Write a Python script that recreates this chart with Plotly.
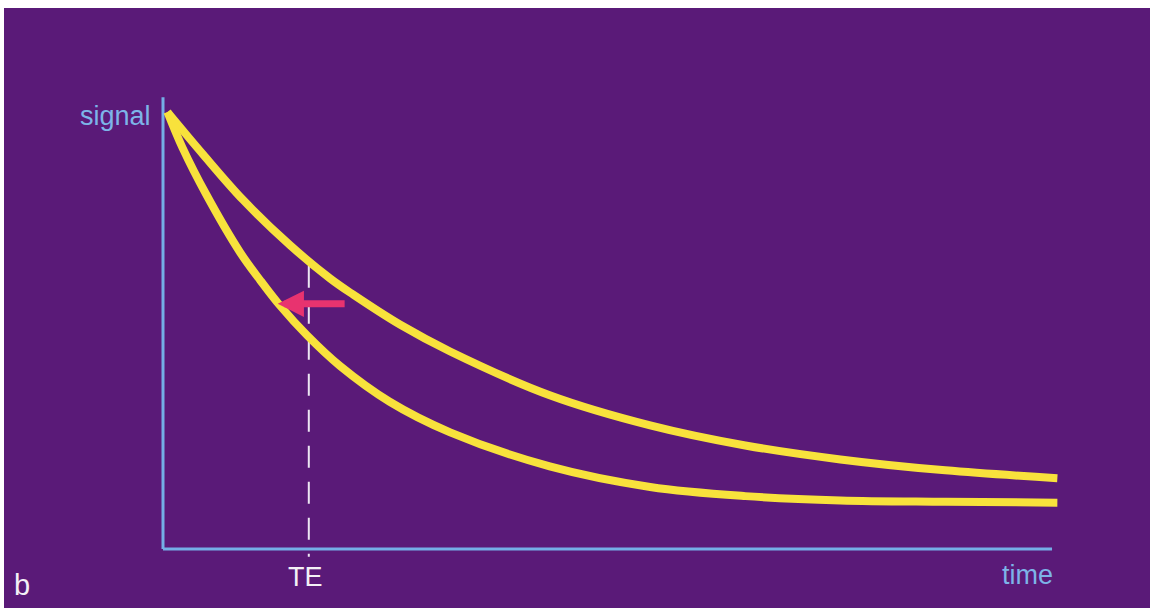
import plotly.graph_objects as go

# Data (arbitrary units): time axis 0..100, signal 0..1
time_slow = [0.5, 4.5, 9.0, 14.3, 18.8, 21.4, 26.7, 32.3, 43.5, 54.8, 65.5, 76.2, 88.0, 100.6]
signal_slow = [1.0, 0.903, 0.799, 0.695, 0.619, 0.582, 0.513, 0.452, 0.352, 0.283,
               0.237, 0.205, 0.180, 0.162]

time_fast = [0.5, 2.2, 4.9, 8.7, 10.9, 13.2, 16.2, 19.9, 25.5, 32.3, 43.5, 54.8, 65.5,
             76.2, 88.0, 100.6]
signal_fast = [1.0, 0.918, 0.810, 0.678, 0.616, 0.556, 0.489, 0.419, 0.337, 0.267, 0.189,
               0.142, 0.121, 0.111, 0.108, 0.106]

TE = 16.4
arrow_from = 20.6
arrow_to = 12.9
arrow_level = 0.561

x_axis_end = 100
y_axis_top = 1.034

PURPLE = "#5a1a78"
YELLOW = "#f8e23c"
AXIS = "#74aee6"
FONT = "Liberation Sans, Arial, sans-serif"

fig = go.Figure()

fig.add_trace(go.Scatter(x=time_slow, y=signal_slow, mode="lines",
                         line=dict(color=YELLOW, width=8, shape="spline", smoothing=1.0),
                         hoverinfo="skip", showlegend=False))
fig.add_trace(go.Scatter(x=time_fast, y=signal_fast, mode="lines",
                         line=dict(color=YELLOW, width=8, shape="spline", smoothing=1.0),
                         hoverinfo="skip", showlegend=False))

# axes
fig.add_shape(type="line", x0=0, x1=0, y0=0, y1=y_axis_top, xref="x", yref="y",
              line=dict(color=AXIS, width=3), layer="below")
fig.add_shape(type="line", x0=0, x1=x_axis_end, y0=0, y1=0, xref="x", yref="y",
              line=dict(color=AXIS, width=3), layer="below")

# TE dashed line (drawn top -> bottom so the dash pattern starts at the curve)
fig.add_shape(type="line", x0=TE, x1=TE, y0=0.648, y1=-0.018, xref="x", yref="y",
              line=dict(color="#ece6f2", width=2, dash="22px,14px"), layer="below")

# arrow
fig.add_annotation(x=arrow_to, y=arrow_level, ax=arrow_from, ay=arrow_level,
                   xref="x", yref="y", axref="x", ayref="y", text="",
                   showarrow=True, arrowhead=2, arrowsize=0.75, arrowwidth=7,
                   arrowcolor="#e8336f", standoff=0, startstandoff=0)

# texts
fig.add_annotation(x=-1.1, y=0.991, xref="x", yref="y", text="signal", showarrow=False,
                   xanchor="right", yanchor="middle",
                   font=dict(family=FONT, size=27, color="#7db4e8"))
fig.add_annotation(x=97.2, y=-0.059, xref="x", yref="y", text="time", showarrow=False,
                   xanchor="center", yanchor="middle",
                   font=dict(family=FONT, size=27, color="#7db4e8"))
fig.add_annotation(x=16.0, y=-0.064, xref="x", yref="y", text="TE", showarrow=False,
                   xanchor="center", yanchor="middle",
                   font=dict(family=FONT, size=27, color="#f4f0f6"))
fig.add_annotation(x=-15.9, y=-0.082, xref="x", yref="y", text="b", showarrow=False,
                   xanchor="center", yanchor="middle",
                   font=dict(family=FONT, size=29, color="#f4f0f6"))

fig.update_layout(
    width=1152, height=612,
    margin=dict(l=4, r=2, t=8, b=4),
    paper_bgcolor="white",
    plot_bgcolor=PURPLE,
    xaxis=dict(range=[-17.885, 111.02], visible=False, fixedrange=True),
    yaxis=dict(range=[-0.135, 1.238], visible=False, fixedrange=True),
    showlegend=False,
)

fig.write_html("out.html", config={"displayModeBar": False},
               post_script="document.body.style.margin='0';document.body.style.overflow='hidden';")
